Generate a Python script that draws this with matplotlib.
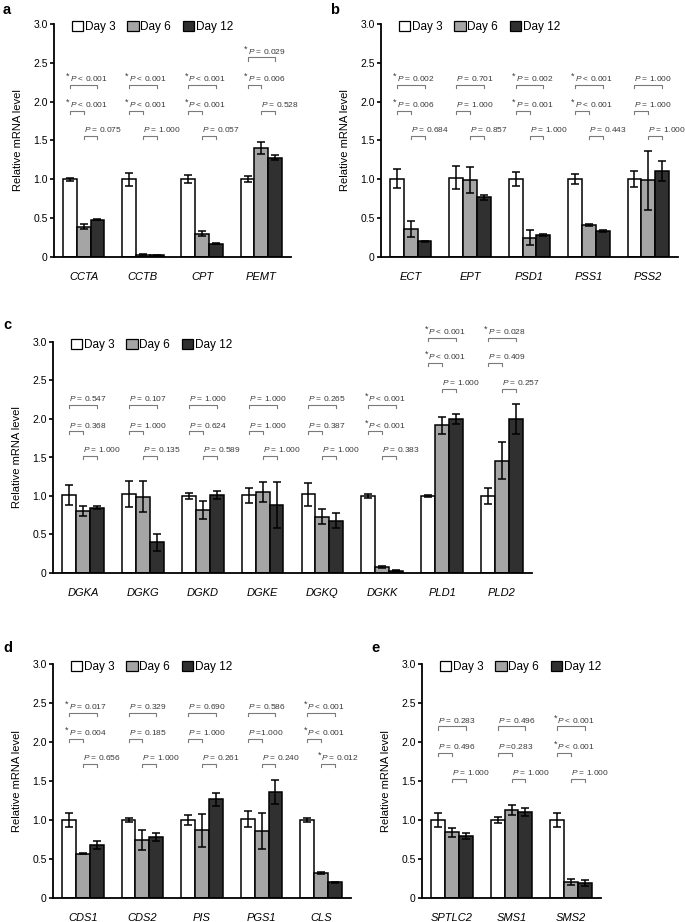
import matplotlib
matplotlib.use('Agg')
import matplotlib.pyplot as plt
from matplotlib.patches import Patch
import numpy as np

plt.rcParams['font.family'] = ['Liberation Sans', 'DejaVu Sans']
plt.rcParams['mathtext.fontset'] = 'custom'
plt.rcParams['mathtext.it'] = 'Liberation Sans:italic'
plt.rcParams['mathtext.rm'] = 'Liberation Sans'

# ---------------- data ----------------
series_names = ['Day 3', 'Day 6', 'Day 12']
y_ticks = [0, 0.5, 1.0, 1.5, 2.0, 2.5, 3.0]
y_tick_labels = ['0', '0.5', '1.0', '1.5', '2.0', '2.5', '3.0']

a_genes = ['CCTA', 'CCTB', 'CPT', 'PEMT']
a_day3 = [1.00, 1.00, 1.00, 1.00]
a_day6 = [0.39, 0.03, 0.30, 1.40]
a_day12 = [0.48, 0.02, 0.17, 1.28]
a_err3 = [0.02, 0.08, 0.05, 0.04]
a_err6 = [0.03, 0.01, 0.03, 0.08]
a_err12 = [0.01, 0.005, 0.005, 0.03]
a_p_3v12 = ['*P < 0.001', '*P < 0.001', '*P < 0.001', '*P = 0.029']
a_p_3v6 = ['*P < 0.001', '*P < 0.001', '*P < 0.001', '*P = 0.006']
a_p_6v12 = ['P = 0.075', 'P = 1.000', 'P = 0.057', 'P = 0.528']

b_genes = ['ECT', 'EPT', 'PSD1', 'PSS1', 'PSS2']
b_day3 = [1.01, 1.02, 1.00, 1.00, 1.00]
b_day6 = [0.36, 0.99, 0.25, 0.41, 0.99]
b_day12 = [0.20, 0.77, 0.28, 0.335, 1.11]
b_err3 = [0.12, 0.15, 0.09, 0.065, 0.105]
b_err6 = [0.10, 0.17, 0.10, 0.01, 0.38]
b_err12 = [0.01, 0.03, 0.015, 0.01, 0.13]
b_p_3v12 = ['*P = 0.002', 'P = 0.701', '*P = 0.002', '*P < 0.001', 'P = 1.000']
b_p_3v6 = ['*P = 0.006', 'P = 1.000', '*P = 0.001', '*P < 0.001', 'P = 1.000']
b_p_6v12 = ['P = 0.684', 'P = 0.857', 'P = 1.000', 'P = 0.443', 'P = 1.000']

c_genes = ['DGKA', 'DGKG', 'DGKD', 'DGKE', 'DGKQ', 'DGKK', 'PLD1', 'PLD2']
c_day3 = [1.01, 1.03, 1.00, 1.01, 1.02, 1.00, 1.00, 1.00]
c_day6 = [0.81, 0.99, 0.82, 1.05, 0.73, 0.08, 1.92, 1.46]
c_day12 = [0.845, 0.40, 1.01, 0.88, 0.68, 0.03, 2.00, 2.00]
c_err3 = [0.13, 0.17, 0.04, 0.095, 0.145, 0.03, 0.01, 0.10]
c_err6 = [0.065, 0.20, 0.12, 0.13, 0.10, 0.01, 0.11, 0.245]
c_err12 = [0.02, 0.11, 0.055, 0.30, 0.10, 0.005, 0.066, 0.19]
c_p_3v12 = ['P = 0.547', 'P = 0.107', 'P = 1.000', 'P = 1.000', 'P = 0.265',
            '*P < 0.001', '*P < 0.001', '*P = 0.028']
c_p_3v6 = ['P = 0.368', 'P = 1.000', 'P = 0.624', 'P = 1.000', 'P = 0.387',
           '*P < 0.001', '*P < 0.001', 'P = 0.409']
c_p_6v12 = ['P = 1.000', 'P = 0.135', 'P = 0.589', 'P = 1.000', 'P = 1.000',
            'P = 0.383', 'P = 1.000', 'P = 0.257']

d_genes = ['CDS1', 'CDS2', 'PIS', 'PGS1', 'CLS']
d_day3 = [1.00, 1.00, 1.00, 1.01, 1.00]
d_day6 = [0.57, 0.74, 0.87, 0.855, 0.32]
d_day12 = [0.68, 0.78, 1.265, 1.36, 0.20]
d_err3 = [0.09, 0.03, 0.06, 0.10, 0.02]
d_err6 = [0.01, 0.13, 0.21, 0.23, 0.01]
d_err12 = [0.05, 0.055, 0.085, 0.155, 0.01]
d_p_3v12 = ['*P = 0.017', 'P = 0.329', 'P = 0.690', 'P = 0.586', '*P < 0.001']
d_p_3v6 = ['*P = 0.004', 'P = 0.185', 'P = 1.000', 'P =1.000', '*P < 0.001']
d_p_6v12 = ['P = 0.656', 'P = 1.000', 'P = 0.261', 'P = 0.240', '*P = 0.012']

e_genes = ['SPTLC2', 'SMS1', 'SMS2']
e_day3 = [1.00, 1.00, 1.00]
e_day6 = [0.84, 1.13, 0.205]
e_day12 = [0.795, 1.10, 0.19]
e_err3 = [0.09, 0.04, 0.09]
e_err6 = [0.06, 0.06, 0.04]
e_err12 = [0.035, 0.055, 0.04]
e_p_3v12 = ['P = 0.283', 'P = 0.496', '*P < 0.001']
e_p_3v6 = ['P = 0.496', 'P =0.283', '*P < 0.001']
e_p_6v12 = ['P = 1.000', 'P = 1.000', 'P = 1.000']

# ---------------- style / layout ----------------
W, H = 685, 922
colors = ['#ffffff', '#a5a5a5', '#303030']
bar_w = 0.233
p_color = '#3a3a3a'
br_color = '#7a7a7a'

fig = plt.figure(figsize=(W / 100, H / 100), dpi=100)


def make_ax(left, right, top, bottom):
    return fig.add_axes([left / W, 1 - bottom / H, (right - left) / W, (bottom - top) / H])


def p_text(s):
    star = s.startswith('*')
    body = s[1:] if star else s
    body = body.replace('P', r'$\mathit{P}$', 1)
    return star, body


def draw_panel(ax, box, genes, means, errs, pvals, rows, shifted_rows, shifted):
    n = len(genes)
    x = np.arange(n)
    for k in range(3):
        ax.bar(x + (k - 1) * bar_w, means[k], bar_w, color=colors[k],
               edgecolor='black', linewidth=1.1, zorder=2,
               yerr=errs[k],
               error_kw=dict(ecolor='black', elinewidth=1.1, capsize=2.6,
                             capthick=1.1, zorder=3))
    pairs = [(0, 2), (0, 1), (1, 2)]
    tick_h = 0.04
    for i in range(n):
        r = shifted_rows if genes[i] in shifted else rows
        for j, (p, q) in enumerate(pairs):
            x1 = i + (p - 1) * bar_w
            x2 = i + (q - 1) * bar_w
            y = r[j]
            ax.plot([x1, x1, x2, x2], [y - tick_h, y, y, y - tick_h],
                    color=br_color, lw=0.8, clip_on=False, zorder=4)
            star, body = p_text(pvals[j][i])
            ax.text(x1, y + 0.08, body, ha='left', va='center', fontsize=6,
                    color=p_color, clip_on=False)
            if star:
                ax.text(x1 - 0.005, y + 0.11, '*', ha='right', va='center',
                        fontsize=6.5, color=p_color, clip_on=False)
    ax.set_xlim(-0.5, n - 0.5)
    ax.set_ylim(0, 3.0)
    ax.set_yticks(y_ticks)
    ax.set_yticklabels(y_tick_labels)
    ax.set_xticks(x)
    ax.set_xticklabels(genes, fontstyle='italic')
    for s in ['top', 'right']:
        ax.spines[s].set_visible(False)
    for s in ['left', 'bottom']:
        ax.spines[s].set_linewidth(1.3)
    ax.tick_params(axis='y', direction='out', length=3, width=1.2, pad=1.5,
                   labelsize=7.5)
    ax.tick_params(axis='x', length=0, pad=10.5, labelsize=8)
    axw = box[1] - box[0]
    axh = box[3] - box[2]
    ax.set_ylabel('Relative mRNA level', fontsize=8)
    ax.yaxis.set_label_coords(-31 / axw, 0.5)
    handles = [Patch(facecolor=c, edgecolor='black', linewidth=0.9) for c in colors]
    ax.legend(handles, series_names, ncol=3, loc='upper left',
              bbox_to_anchor=(18 / axw, 1 + 3 / axh), frameon=False, fontsize=8.5,
              handlelength=0.95, handleheight=0.95, handletextpad=0.15,
              columnspacing=1.0, borderpad=0, borderaxespad=0)


boxes = {
    'a': (54, 291, 24, 257),
    'b': (381, 678, 24, 257),
    'c': (53, 532, 342, 573),
    'd': (53, 351, 664, 898),
    'e': (422, 601, 664, 898),
}

panel_data = {
    'a': (a_genes, [a_day3, a_day6, a_day12], [a_err3, a_err6, a_err12],
          [a_p_3v12, a_p_3v6, a_p_6v12]),
    'b': (b_genes, [b_day3, b_day6, b_day12], [b_err3, b_err6, b_err12],
          [b_p_3v12, b_p_3v6, b_p_6v12]),
    'c': (c_genes, [c_day3, c_day6, c_day12], [c_err3, c_err6, c_err12],
          [c_p_3v12, c_p_3v6, c_p_6v12]),
    'd': (d_genes, [d_day3, d_day6, d_day12], [d_err3, d_err6, d_err12],
          [d_p_3v12, d_p_3v6, d_p_6v12]),
    'e': (e_genes, [e_day3, e_day6, e_day12], [e_err3, e_err6, e_err12],
          [e_p_3v12, e_p_3v6, e_p_6v12]),
}

row_levels = {
    'a': ([2.22, 1.88, 1.56], [2.57, 2.22, 1.88], ['PEMT']),
    'b': ([2.22, 1.88, 1.56], None, []),
    'c': ([2.18, 1.84, 1.52], [3.05, 2.73, 2.39], ['PLD1', 'PLD2']),
    'd': ([2.37, 2.04, 1.72], None, []),
    'e': ([2.20, 1.86, 1.53], None, []),
}

label_pos = {'a': (3, 10), 'b': (330, 10), 'c': (3, 325), 'd': (3, 648), 'e': (371, 648)}

for key in ['a', 'b', 'c', 'd', 'e']:
    box = boxes[key]
    ax = make_ax(*box)
    genes, means, errs, pvals = panel_data[key]
    rows, srows, shifted = row_levels[key]
    draw_panel(ax, box, genes, means, errs, pvals, rows, srows, shifted)
    lx, ly = label_pos[key]
    fig.text(lx / W, 1 - ly / H, key, fontsize=10.5, fontweight='bold',
             ha='left', va='center')

fig.savefig('out.png', dpi=100)
